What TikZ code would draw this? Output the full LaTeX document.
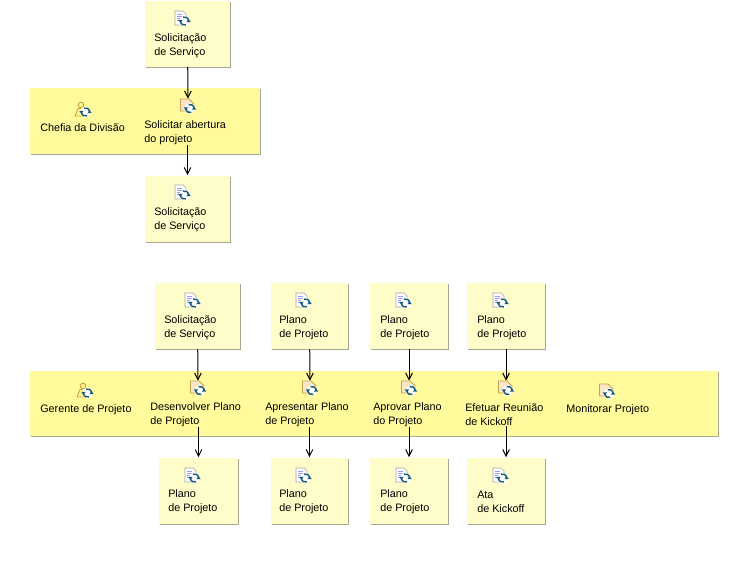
\documentclass[tikz,border=0pt]{standalone}
\usepackage{fontspec}
\setmainfont{Liberation Sans}
\usetikzlibrary{arrows.meta,shadows}

\definecolor{docyellow}{HTML}{FEFCC8}
\definecolor{laneyellow}{HTML}{FFFB9C}
\definecolor{edgegray}{HTML}{A8A890}
\definecolor{icontan}{HTML}{C8A050}
\definecolor{iconblue}{HTML}{155A78}
\definecolor{iconpeach}{HTML}{FCE6C6}

\tikzset{
  syncbadge/.pic={
    \begin{scope}[scale=1.2]
    \fill[white] (0,0) circle (4.6);
    \draw[iconblue,line width=1.1pt] (-3.4,0) arc (180:70:3.4);
    \draw[iconblue,line width=1.1pt] (3.4,0) arc (0:-110:3.4);
    \fill[iconblue] (-5.2,-1) -- (-1.6,-1) -- (-3.4,1.6) -- cycle;
    \fill[iconblue] (5.2,1) -- (1.6,1) -- (3.4,-1.6) -- cycle;
    \end{scope}
  },
  docicon/.pic={
    \draw[gray!70,fill=white,line width=.5pt] (-7,-8) -- (1,-8) -- (4,-5) -- (4,6) -- (-7,6) -- cycle;
    \draw[blue!40,line width=.5pt] (-5,-5) -- (0,-5) (-5,-3) -- (2,-3) (-5,-1) -- (2,-1) (-5,1) -- (0,1);
    \pic at (2.5,2) {syncbadge};
  },
  acticon/.pic={
    \draw[icontan,fill=iconpeach,line width=.7pt] (-7.5,-7) -- (1,-7) -- (6,-2) -- (6,5) -- (-7.5,5) -- cycle;
    \pic at (2,2.5) {syncbadge};
  },
  actoricon/.pic={
    \draw[icontan,fill=yellow!50,line width=.7pt] (-2,-7) circle (2.8);
    \draw[icontan,fill=yellow!50,line width=.7pt] (-8,4) -- (-5,-3.5) -- (1,-3.5) -- (3,4) -- cycle;
    \pic at (2.5,0) {syncbadge};
  }
}

\begin{document}
\begin{tikzpicture}[x=0.75pt,y=-0.75pt]

      \useasboundingbox[fill=white] (0,0) rectangle (739,565);

      % yellow boxes
      \begin{scope}[every node/.style={fill=docyellow,inner sep=0pt,minimum height=49.5pt,
          general shadow={fill=edgegray,shadow xshift=0.75pt,shadow yshift=-0.75pt}}]
        \node[minimum width=63.75pt] (d1)  at (187.5,33.5)  {};
        \node[minimum width=63.75pt] (d2)  at (187.5,208.5) {};
        \node[minimum width=63.75pt] (d3)  at (197.5,316)   {};
        \node[minimum width=58pt]    (d4)  at (309.5,316)   {};
        \node[minimum width=58pt]    (d5)  at (409,316)     {};
        \node[minimum width=58pt]    (d6)  at (506,316)     {};
        \node[minimum width=59pt]    (d7)  at (198.5,490.5) {};
        \node[minimum width=58pt]    (d8)  at (309.5,490.5) {};
        \node[minimum width=58pt]    (d9)  at (409,490.5)   {};
        \node[minimum width=58pt]    (d10) at (506,490.5)   {};
        \node[fill=laneyellow,minimum width=172.5pt,minimum height=49.5pt] (lane1) at (145,121)   {};
        \node[fill=laneyellow,minimum width=516pt,minimum height=49pt]     (lane2) at (374,403.5) {};
      \end{scope}

      % activities, the box round the icon is not drawn
      \begin{scope}[every node/.style={inner sep=0pt,minimum width=11.25pt,minimum height=10.5pt}]
        \node (a1) at (188,106) {};
        \node (a2) at (198,388) {};
        \node (a3) at (310,388) {};
        \node (a4) at (409,388) {};
        \node (a5) at (506,388) {};
        \node (a6) at (607,391) {};
      \end{scope}

      % labels
      \begin{scope}[every node/.style={anchor=west,align=left,inner sep=0pt,
          font=\fontsize{8.1}{10.5}\selectfont}]
        \node (l1)  at (154,46)  {Solicitação\\de Serviço};
        \node (l2)  at (154,220) {Solicitação\\de Serviço};
        \node (l3)  at (164,328) {Solicitação\\de Serviço};
        \node (l4)  at (279,328) {Plano\\de Projeto};
        \node (l5)  at (380,328) {Plano\\de Projeto};
        \node (l6)  at (477,328) {Plano\\de Projeto};
        \node (l7)  at (168,502) {Plano\\de Projeto};
        \node (l8)  at (279,502) {Plano\\de Projeto};
        \node (l9)  at (380,502) {Plano\\de Projeto};
        \node (l10) at (477,502) {Ata\\de Kickoff};
        \node (r1)  at (40,127.5)  {Chefia da Divisão};
        \node (r2)  at (40,409.5)  {Gerente de Projeto};
        \node (t1)  at (144,133) {Solicitar abertura\\do projeto};
        \node (t2)  at (150,415) {Desenvolver Plano\\de Projeto};
        \node (t3)  at (265,415) {Apresentar Plano\\de Projeto};
        \node (t4)  at (373,415) {Aprovar Plano\\do Projeto};
        \node (t5)  at (465,415) {Efetuar Reunião\\de Kickoff};
        \node (t6)  at (566,409.5) {Monitorar Projeto};
      \end{scope}

      \begin{scope}[every path/.style={draw,black,line width=0.75pt,-{Straight Barb[length=5pt,width=5pt]}}]
        \path (d1) -- (a1);
        \path (t1.south -| d2) -- (d2);
        \path (d3) -- (a2);
        \path (d4) -- (a3);
        \path (d5) -- (a4);
        \path (d6) -- (a5);
        \path (t2.south -| d7) -- (d7);
        \path (t3.south -| d8) -- (d8);
        \path (t4.south -| d9) -- (d9);
        \path (t5.south -| d10) -- (d10);
      \end{scope}

      % icons
      \pic at (182,19)  {docicon};
      \pic at (182,193) {docicon};
      \pic at (192,301) {docicon};
      \pic at (303,301) {docicon};
      \pic at (403,301) {docicon};
      \pic at (500,301) {docicon};
      \pic at (192,476) {docicon};
      \pic at (303,476) {docicon};
      \pic at (403,476) {docicon};
      \pic at (500,476) {docicon};
      \pic at (83,112)  {actoricon};
      \pic at (85,393)  {actoricon};
      \pic at (a1) {acticon};
      \pic at (a2) {acticon};
      \pic at (a3) {acticon};
      \pic at (a4) {acticon};
      \pic at (a5) {acticon};
      \pic at (a6) {acticon};

    \end{tikzpicture}
\end{document}
